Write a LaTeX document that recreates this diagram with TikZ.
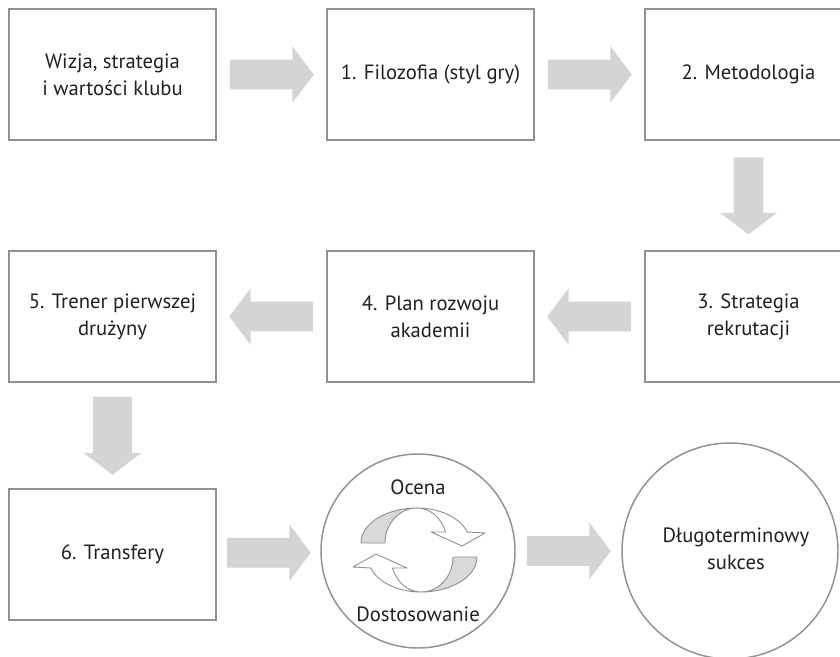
\documentclass[tikz,border=0pt]{standalone}
\usepackage{fontspec}
\setmainfont{PT Sans}
\usepackage{tikz}
\usetikzlibrary{shapes.arrows}
\definecolor{framegray}{RGB}{145,145,145}
\definecolor{arrowgray}{RGB}{212,212,212}
\definecolor{ribbongray}{RGB}{217,217,217}
\definecolor{textdark}{RGB}{35,31,32}
\tikzset{
    stagebox/.style={draw=framegray, line width=1.1pt, minimum width=155.25pt, minimum height=98.25pt,
        inner sep=0pt, align=center, text=textdark, font=\fontsize{15.5}{20}\selectfont},
    stagecircle/.style={circle, draw=framegray, line width=1.1pt, inner sep=0pt},
    cyclelabel/.style={align=center, text=textdark, font=\fontsize{15.5}{20}\selectfont},
    blockarrow/.style={single arrow, fill=arrowgray, draw=none, inner sep=0pt, inner ysep=10.9pt,
        single arrow head extend=10.1pt, single arrow tip angle=106,
        single arrow head indent=0pt, anchor=tail},
    arrowlen/.style={minimum height=#1, xshift=-0.5*#1},
    ribbonback/.style={fill=ribbongray, draw=framegray, line width=0.7pt, line join=round},
    ribbonfront/.style={fill=white, draw=framegray, line width=0.7pt, line join=round}
}

\begin{document}
\begin{tikzpicture}[x=0.75pt, y=-0.75pt]
    \useasboundingbox (0,0) rectangle (840,657);

    % row 1
    \node[stagebox] (wizja) at (112.5,74.5) {Wizja, strategia\\i wartości klubu};
    \node[stagebox] (filozofia) at (430.5,74.5) {1. Filozofia (styl gry)};
    \node[stagebox] (metodologia) at (748.5,74.5) {2. Metodologia};

    % row 2
    \node[stagebox] (rekrutacja) at (748.5,316.5) {3. Strategia\\rekrutacji};
    \node[stagebox] (plan) at (430.5,316.5) {4. Plan rozwoju\\akademii};
    \node[stagebox] (trener) at (112.5,316.5) {5. Trener pierwszej\\drużyny};

    % row 3
    \node[stagebox] (transfery) at (112.5,554.5) {6. Transfery};
    \node[stagecircle, minimum size=145.5pt] (ocena) at (418,551) {};
    \node[stagecircle, minimum size=162pt] (sukces) at (730,551) {};
    \node[cyclelabel] (sukcestxt) at (736,549) {Długoterminowy\\sukces};

    % block arrows
    \path (wizja.east) -- node[blockarrow, arrowlen=63pt] (a1) {} (filozofia.west);
    \path (filozofia.east) -- node[blockarrow, arrowlen=63pt] (a2) {} (metodologia.west);
    \path (metodologia.south) -- node[blockarrow, rotate=-90, arrowlen=57.75pt] (a3) {} (rekrutacja.north);
    \path (rekrutacja.west) -- node[blockarrow, rotate=180, arrowlen=63pt] (a4) {} (plan.east);
    \path (plan.west) -- node[blockarrow, rotate=180, arrowlen=63pt] (a5) {} (trener.east);
    \path (trener.south) -- node[blockarrow, rotate=-90, arrowlen=58.5pt,
        inner ysep=14.25pt, single arrow head extend=7.1pt] (a6) {} (transfery.north);
    \path (transfery.east) -- node[blockarrow, arrowlen=63pt] (a7) {} (ocena.west);
    \path (ocena.east) -- node[blockarrow, arrowlen=63pt] (a8) {} (sukces.west);

    % cycle inside the circle
    \node[cyclelabel] (ocenatxt) at (418,487) {Ocena};
    \node[cyclelabel] (dostosowanie) at (418,614) {Dostosowanie};
    \begin{scope}[shift={(419,550)}, yscale=-1]
        \foreach \ang in {0,180} {
            \begin{scope}[rotate=\ang]
                \filldraw[ribbonback] (-58,7) arc[start angle=180, end angle=90, x radius=56, y radius=35]
                    arc[start angle=90, end angle=180, x radius=32, y radius=35] -- cycle;
                \filldraw[ribbonfront] (-2,42) arc[start angle=90, end angle=18.3, x radius=53, y radius=35]
                    -- (66,17) -- (43,4) -- (12,18) -- (26.5,18)
                    arc[start angle=18.3, end angle=90, x radius=30, y radius=35] -- cycle;
            \end{scope}
        }
    \end{scope}
\end{tikzpicture}
\end{document}
